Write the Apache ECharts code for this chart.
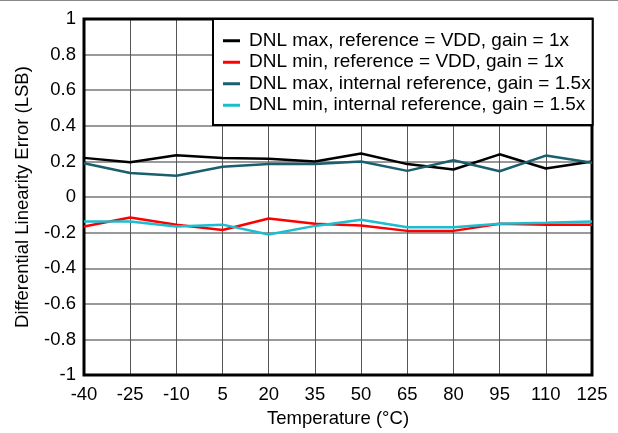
<!DOCTYPE html>
<html>
<head>
<meta charset="utf-8">
<script src="https://cdn.jsdelivr.net/npm/echarts@6/dist/echarts.min.js"></script>
<style>
  html, body { margin: 0; padding: 0; background: #fff; }
  #chart { width: 618px; height: 433px; }
</style>
</head>
<body>
<div id="chart"></div>
<script>
// temperature points (°C)
const temps = ['-40', '-25', '-10', '5', '20', '35', '50', '65', '80', '95', '110', '125'];

// DNL values (LSB)
const dnlMaxVdd = [0.22, 0.195, 0.235, 0.22, 0.215, 0.2, 0.245, 0.185, 0.155, 0.24, 0.16, 0.2];
const dnlMinVdd = [-0.165, -0.115, -0.155, -0.185, -0.12, -0.15, -0.16, -0.19, -0.19, -0.15, -0.155, -0.155];
const dnlMaxInt = [0.19, 0.135, 0.12, 0.17, 0.185, 0.185, 0.2, 0.147, 0.207, 0.145, 0.233, 0.193];
const dnlMinInt = [-0.137, -0.137, -0.165, -0.155, -0.21, -0.162, -0.127, -0.17, -0.17, -0.15, -0.145, -0.137];

const seriesNames = [
  'DNL max, reference = VDD, gain = 1x',
  'DNL min, reference = VDD, gain = 1x',
  'DNL max, internal reference, gain = 1.5x',
  'DNL min, internal reference, gain = 1.5x'
];
const seriesColors = ['#000000', '#ff0000', '#1b5e6e', '#1cbdcf'];
const seriesData = [dnlMaxVdd, dnlMinVdd, dnlMaxInt, dnlMinInt];

const FONT = 'Liberation Sans, Arial, sans-serif';

var myChart = echarts.init(document.getElementById('chart'));

const option = {
  animation: false,
  textStyle: { fontFamily: FONT, color: '#000' },
  grid: {
    left: 84,
    right: 26,
    top: 19,
    bottom: 54,
    show: true,
    borderColor: '#000',
    borderWidth: 3,
    z: 3
  },
  graphic: [
    {
      type: 'line',
      shape: { x1: 0, y1: 0.5, x2: 618, y2: 0.5 },
      style: { stroke: '#888', lineWidth: 1 }
    }
  ],
  legend: {
    orient: 'vertical',
    left: 213,
    top: 19,
    padding: [11, 2, 9, 10],
    itemGap: 0,
    itemWidth: 17,
    itemHeight: 3,
    icon: 'rect',
    backgroundColor: '#fff',
    borderColor: '#000',
    borderWidth: 2,
    z: 10,
    textStyle: { fontFamily: FONT, fontSize: 19, color: '#000', lineHeight: 21.5, padding: [0, 0, 0, 4] },
    data: seriesNames
  },
  xAxis: {
    type: 'category',
    data: temps,
    boundaryGap: false,
    name: 'Temperature (°C)',
    nameLocation: 'middle',
    nameGap: 31,
    nameTextStyle: { fontFamily: FONT, fontSize: 18.5, color: '#000' },
    axisLine: { show: false },
    axisTick: { show: false },
    axisLabel: { fontFamily: FONT, fontSize: 18.5, color: '#000', margin: 10, interval: 0 },
    splitLine: { show: true, lineStyle: { color: '#555', width: 1 } }
  },
  yAxis: {
    type: 'value',
    min: -1,
    max: 1,
    interval: 0.2,
    name: 'Differential Linearity Error (LSB)',
    nameLocation: 'middle',
    nameGap: 52,
    nameTextStyle: { fontFamily: FONT, fontSize: 18.5, color: '#000' },
    axisLine: { show: false },
    axisTick: { show: false },
    axisLabel: { fontFamily: FONT, fontSize: 18.5, color: '#000', margin: 8 },
    splitLine: { show: true, lineStyle: { color: '#777', width: 1.5 } }
  },
  series: seriesNames.map((name, i) => ({
    name: name,
    type: 'line',
    data: seriesData[i],
    symbol: 'none',
    color: seriesColors[i],
    lineStyle: { color: seriesColors[i], width: 2.5 },
    z: 4 + i
  }))
};

option && myChart.setOption(option);
</script>
</body>
</html>
